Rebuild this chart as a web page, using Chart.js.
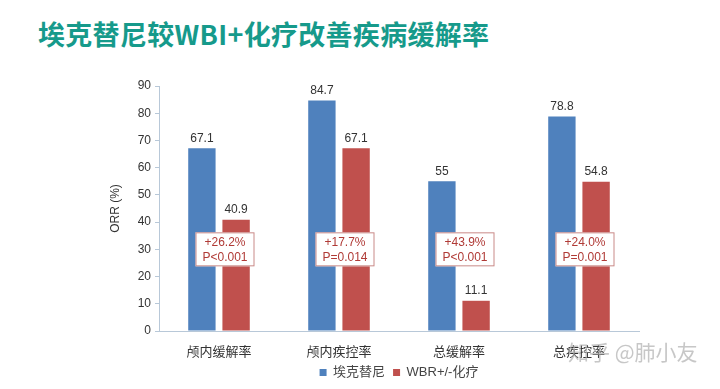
<!DOCTYPE html>
<html>
<head>
<meta charset="utf-8">
<script src="https://cdn.jsdelivr.net/npm/chart.js@4"></script>
<style>
  html, body { margin: 0; padding: 0; background: #fff; }
  #wrap { position: relative; width: 720px; height: 389px; }
  #title {
    position: absolute; left: 38px; top: 14px;
    font: bold 27px "Noto Sans CJK SC", sans-serif;
    color: #169a8b; letter-spacing: 0.3px; white-space: nowrap;
  }
  canvas { position: absolute; left: 0; top: 0; }
</style>
</head>
<body>
<div id="wrap">
  <div id="title">埃克替尼较WBI+化疗改善疾病缓解率</div>
  <canvas id="orrChart" width="720" height="389"></canvas>
</div>
<script>
const categories = ['颅内缓解率', '颅内疾控率', '总缓解率', '总疾控率'];
const icotinib = [67.1, 84.7, 55, 78.8];
const wbiChemo = [40.9, 67.1, 11.1, 54.8];
const diffLabels = ['+26.2%', '+17.7%', '+43.9%', '+24.0%'];
const pLabels = ['P<0.001', 'P=0.014', 'P<0.001', 'P=0.001'];

const latin = "'Liberation Sans', 'Noto Sans CJK SC', sans-serif";

// value labels above the bars, difference boxes, watermark
const extras = {
    id: 'extras',
    afterDatasetsDraw(chart) {
        const ctx = chart.ctx;
        ctx.save();
        ctx.font = '12px ' + latin;
        ctx.fillStyle = '#333';
        ctx.textAlign = 'center';
        ctx.textBaseline = 'bottom';
        chart.data.datasets.forEach((ds, i) => {
            chart.getDatasetMeta(i).data.forEach((bar, j) => {
                ctx.fillText(String(ds.data[j]), bar.x, bar.y - 4);
            });
        });

        const yScale = chart.scales.y;
        const cy = yScale.getPixelForValue(30);
        chart.getDatasetMeta(0).data.forEach((bar, j) => {
            const red = chart.getDatasetMeta(1).data[j];
            const cx = (bar.x + red.x) / 2 + 6;
            const w = 59, h = 34;
            ctx.fillStyle = '#fff';
            ctx.fillRect(cx - w / 2, cy - h / 2, w, h);
            ctx.strokeStyle = '#c98a88';
            ctx.lineWidth = 1;
            ctx.strokeRect(cx - w / 2 + 0.5, cy - h / 2 + 0.5, w - 1, h - 1);
            ctx.fillStyle = '#b03a36';
            ctx.font = '12px ' + latin;
            ctx.textBaseline = 'middle';
            ctx.fillText(diffLabels[j], cx, cy - 7);
            ctx.fillText(pLabels[j], cx, cy + 8);
        });
        ctx.restore();
    },
    afterDraw(chart) {
        const ctx = chart.ctx;
        ctx.save();
        ctx.font = '21px "Noto Sans CJK SC", sans-serif';
        ctx.fillStyle = 'rgba(175,175,175,0.7)';
        ctx.textAlign = 'left';
        ctx.textBaseline = 'middle';
        ctx.fillText('知乎 @肺小友', 568, 352);
        ctx.restore();
    }
};

const orrChart = new Chart(document.getElementById('orrChart').getContext('2d'), {
    type: 'bar',
    data: {
        labels: categories,
        datasets: [{
            label: '埃克替尼',
            data: icotinib,
            backgroundColor: '#4f81bd',
            categoryPercentage: 0.57,
            barPercentage: 0.8
        }, {
            label: 'WBR+/-化疗',
            data: wbiChemo,
            backgroundColor: '#c0504d',
            categoryPercentage: 0.57,
            barPercentage: 0.8
        }]
    },
    options: {
        responsive: false,
        animation: false,
        layout: { padding: { top: 86, right: 81, left: 104, bottom: 0 } },
        plugins: {
            legend: {
                position: 'bottom',
                fullSize: false,
                labels: {
                    boxWidth: 7, boxHeight: 7, padding: 8,
                    color: '#444',
                    font: { size: 13, family: latin }
                }
            },
            tooltip: { enabled: false }
        },
        scales: {
            x: {
                grid: { display: false },
                border: { color: '#b8c8d8' },
                ticks: { color: '#333', padding: 6, font: { size: 13, family: latin } },
                afterFit(scale) { scale.height = 27; }
            },
            y: {
                min: 0, max: 90,
                ticks: { stepSize: 10, color: '#333', padding: 4, font: { size: 12, family: latin } },
                grid: { drawOnChartArea: false, drawTicks: true, tickLength: 4, color: '#b8c8d8' },
                border: { color: '#b8c8d8' },
                title: { display: true, text: 'ORR (%)', color: '#333', font: { size: 12, family: latin } },
                afterFit(scale) { scale.width = 55; }
            }
        }
    },
    plugins: [extras]
});
</script>
</body>
</html>
